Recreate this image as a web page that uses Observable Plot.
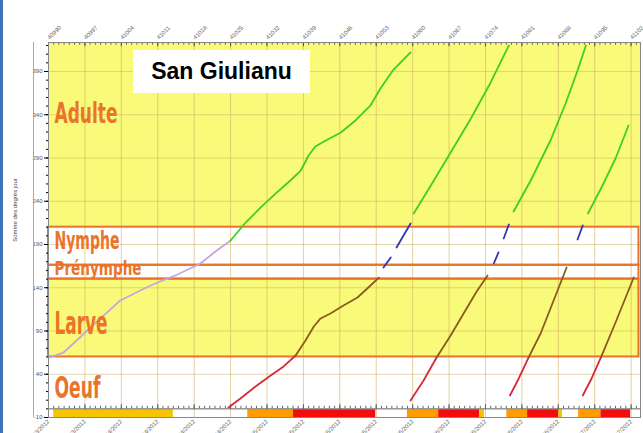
<!DOCTYPE html>
<html><head><meta charset="utf-8">
<script src="https://cdn.jsdelivr.net/npm/d3@7"></script>
<script src="https://cdn.jsdelivr.net/npm/@observablehq/plot@0.6"></script>
<style>
html,body{margin:0;padding:0;background:#fff;}
#wrap{position:relative;width:643px;height:433px;overflow:hidden;font-family:"Liberation Sans",Arial,sans-serif;}
#chart svg{display:block;}
#edge{position:absolute;left:0;top:0;width:3px;height:433px;background:#3f74bb;}
#vline{position:absolute;left:33px;top:42px;width:1px;height:375px;background:#a8a8a8;}
#ytitle{position:absolute;left:15px;top:210px;transform:translate(-50%,-50%) rotate(-90deg);font-size:6px;color:#444;white-space:nowrap;}
#title{position:absolute;left:133px;top:50px;width:177px;height:43px;background:#fff;display:flex;align-items:center;justify-content:center;font:bold 23px "Liberation Sans",Arial,sans-serif;color:#000;}
</style></head><body>
<div id="wrap"><div id="chart"></div><div id="edge"></div><div id="vline"></div><div id="ytitle">Somme des degrés jour</div><div id="title">San Giulianu</div></div>
<script>
// ---- axis / tick data ----
const weekSerials = [40990,40997,41004,41011,41018,41025,41032,41039,41046,41053,41060,41067,41074,41081,41088,41095,41102];
const xEnd = 41103.8;
const yTicks = [-10,40,90,140,190,240,290,340,390];
const yTop = 423.5;

// ---- stage bands (degree-days) ----
const stageNames = ["Oeuf","Larve","Prénymphe","Nymphe","Adulte"];
const stageLow  = [-10, 60, 150, 166, 210];
const stageHigh = [60, 150, 166, 210, 423.5];

// ---- risk bar under the axis ----
const barStart = [40991, 41028.3, 41037.1, 41059.0, 41065.0, 41072.9, 41078.1, 41082.1, 41088.1, 41091.9, 41096.2];
const barEnd   = [41014, 41037.1, 41052.9, 41065.0, 41072.9, 41073.8, 41082.1, 41088.1, 41088.8, 41096.2, 41101.9];
const barLevel = ["jaune","orange","rouge","orange","rouge","jaune","orange","rouge","jaune","orange","rouge"];

// ---- cumulative degree-day curves [serial date, degree-days] ----
const gen1Pre = [[40990.2,59.4],[40992.9,65.1],[40998.1,94.0],[41003.8,125.3],[41009.6,142.6],[41014.4,154.2],[41019.2,168.0],[41022.1,181.9],[41025.0,194.6]];
const gen1Adult = [[41025.0,194.6],[41027.9,215.4],[41030.8,232.8],[41033.7,249.0],[41036.5,264.0],[41038.5,275.5],[41040.0,292.9],[41041.3,303.3],[41043.3,310.2],[41046.2,319.5],[41049.0,333.4],[41051.9,350.7],[41053.8,370.3],[41056.2,391.2],[41059.6,412.0]];

const gen2Egg = [[41024.6,1.6],[41026.9,12.0],[41029.8,25.8],[41032.7,38.6],[41035.2,49.0],[41037.5,61.7]];
const gen2Larva = [[41037.5,61.7],[41039.4,79.0],[41041.0,95.2],[41042.3,104.5],[41044.2,110.2],[41046.7,119.5],[41049.4,128.7],[41051.9,142.6],[41053.5,151.8]];
const gen2PupaA = [[41054.4,163.4],[41055.8,175.0]];
const gen2PupaB = [[41056.9,186.5],[41059.6,214.3]];
const gen2Adult = [[41060.2,225.8],[41063.5,258.2],[41067.3,296.4],[41071.2,335.7],[41075.0,377.3],[41078.5,420.1]];

const gen3Egg = [[41059.6,9.7],[41062.1,32.8],[41064.6,59.4]];
const gen3Larva = [[41064.6,59.4],[41067.3,84.8],[41069.8,110.2],[41072.3,135.7],[41074.4,154.2]];
const gen3PupaA = [[41075.6,168.0],[41076.5,180.8]];
const gen3PupaB = [[41077.5,196.9],[41078.5,213.1]];
const gen3Adult = [[41079.4,228.2],[41082.7,264.0],[41086.5,310.2],[41089.4,353.0],[41091.7,391.2],[41093.3,420.1]];

const gen4Egg = [[41078.7,15.4],[41080.4,35.1],[41082.3,59.4]];
const gen4Larva = [[41082.3,59.4],[41084.6,87.1],[41087.1,125.3],[41089.6,163.4]];
const gen4Pupa = [[41091.7,195.8],[41092.7,212.0]];
const gen4Adult = [[41093.7,225.8],[41096.2,254.7],[41099.0,289.4],[41101.5,327.6]];

const gen5Egg = [[41092.7,15.4],[41094.4,35.1],[41096.2,59.4]];
const gen5Larva = [[41096.2,59.4],[41099.0,99.8],[41102.5,151.8]];

// ---- build tables ----
const segments = [
  {id:"g1p", kind:"pre", pts:gen1Pre}, {id:"g1a", kind:"adult", pts:gen1Adult},
  {id:"g2e", kind:"egg", pts:gen2Egg}, {id:"g2l", kind:"larva", pts:gen2Larva},
  {id:"g2pa", kind:"pupa", pts:gen2PupaA}, {id:"g2pb", kind:"pupa", pts:gen2PupaB}, {id:"g2a", kind:"adult", pts:gen2Adult},
  {id:"g3e", kind:"egg", pts:gen3Egg}, {id:"g3l", kind:"larva", pts:gen3Larva},
  {id:"g3pa", kind:"pupa", pts:gen3PupaA}, {id:"g3pb", kind:"pupa", pts:gen3PupaB}, {id:"g3a", kind:"adult", pts:gen3Adult},
  {id:"g4e", kind:"egg", pts:gen4Egg}, {id:"g4l", kind:"larva", pts:gen4Larva},
  {id:"g4p", kind:"pupa", pts:gen4Pupa}, {id:"g4a", kind:"adult", pts:gen4Adult},
  {id:"g5e", kind:"egg", pts:gen5Egg}, {id:"g5l", kind:"larva", pts:gen5Larva}
];
const lineColor = {pre:"#c6a6dc", adult:"#3fcf22", egg:"#d42a3a", larva:"#8a5a1e", pupa:"#3434b4"};
const rows = segments.flatMap(s => s.pts.map(([x, y]) => ({id: s.id, kind: s.kind, x, y})));

const stages = stageNames.map((name, i) => ({name, lo: stageLow[i], hi: stageHigh[i]}));
const yellowStages = new Set(["Larve","Adulte"]);
const boxedStages = stages.filter(d => ["Larve","Prénymphe","Nymphe"].includes(d.name));
const labelShift = {Oeuf:-1.5, Larve:-6.3, "Prénymphe":4.3, Nymphe:5.5, Adulte:24.6};
const labelSize = {Oeuf:31, Larve:32, "Prénymphe":20, Nymphe:24, Adulte:28};
const labelWidth = {Oeuf:46, Larve:53, "Prénymphe":87, Nymphe:65, Adulte:63};

const bars = barStart.map((s, i) => ({x1: s, x2: barEnd[i], level: barLevel[i]}));
const barColor = {jaune:"#f7c500", orange:"#ff9c00", rouge:"#f20c0c"};

const days = d3.range(weekSerials[0], Math.floor(xEnd) + 1);
const minorY = d3.range(-10, 421, 10);
const excelEpoch = Date.UTC(1899, 11, 30);
const fmtDate = d3.utcFormat("%d/%m/%Y");
const serialToDate = s => fmtDate(new Date(excelEpoch + s * 864e5));

const x0 = weekSerials[0];
const plot = Plot.plot({
  width: 643, height: 433,
  marginLeft: 48, marginRight: 3, marginTop: 42, marginBottom: 16,
  style: {fontFamily: "'Liberation Sans', Arial, sans-serif", background: "#fff"},
  x: {type: "linear", domain: [x0, xEnd]},
  y: {domain: [-10, yTop]},
  marks: [
    Plot.rect(stages, {x1: x0, x2: xEnd, y1: "lo", y2: "hi", fill: d => yellowStages.has(d.name) ? "#fafa7a" : "#ffffff"}),
    Plot.ruleX(weekSerials.slice(1), {stroke: "#cdb060", strokeOpacity: 0.6}),
    Plot.ruleY(yTicks.slice(1), {stroke: "#cdb060", strokeOpacity: 0.5}),
    Plot.rect(boxedStages, {x1: x0, x2: xEnd - 0.3, y1: "lo", y2: "hi", fill: "none", stroke: "#e8742a", strokeWidth: 2}),
    Plot.rect(bars, {x1: "x1", x2: "x2", y1: -10, y2: -1, fill: d => barColor[d.level]}),
    Plot.ruleY([0], {stroke: "#666", strokeWidth: 1}),
    Plot.ruleX(days, {y1: 0, y2: 3, stroke: "#666"}),
    Plot.ruleX(weekSerials, {y1: -1, y2: 5, stroke: "#666"}),
    Plot.ruleX(days, {y1: yTop, y2: yTop - 3, stroke: "#555"}),
    Plot.ruleX(weekSerials, {y1: yTop, y2: yTop - 5, stroke: "#555"}),
    Plot.frame({stroke: "#888"}),
    Plot.line(rows, {x: "x", y: "y", z: "id", stroke: d => lineColor[d.kind], strokeWidth: 1.8}),
    Plot.text(stages, {
      x: x0, y: d => (d.lo + d.hi) / 2 + labelShift[d.name], text: "name",
      textAnchor: "start", dx: 6, fontSize: d => labelSize[d.name], fontWeight: "bold",
      fontFamily: "'DejaVu Sans Condensed', 'DejaVu Sans', sans-serif",
      fill: "#e9742a"
    }),
    Plot.axisX(weekSerials, {anchor: "top", tickSize: 0, tickPadding: 4, tickRotate: -45, tickFormat: d => String(d), fontSize: 6, fill: "#666", label: null}),
    Plot.axisX(weekSerials, {anchor: "bottom", tickSize: 0, tickPadding: 3, tickRotate: -45, tickFormat: serialToDate, fontSize: 6, fill: "#666", label: null}),
    Plot.axisY(yTicks, {anchor: "left", tickSize: 4, tickPadding: 2, tickFormat: d => String(d), fontSize: 6, fill: "#555", label: null}),
    Plot.axisY(minorY, {anchor: "left", tickSize: 2, tickFormat: () => "", label: null})
  ]
});
// compress the stage labels horizontally like the condensed original lettering
plot.querySelectorAll('g[aria-label="text"] text').forEach(t => {
  const w = labelWidth[t.textContent];
  if (w) { t.setAttribute("textLength", w); t.setAttribute("lengthAdjust", "spacingAndGlyphs"); }
});
document.getElementById("chart").append(plot);
</script>
</body></html>
